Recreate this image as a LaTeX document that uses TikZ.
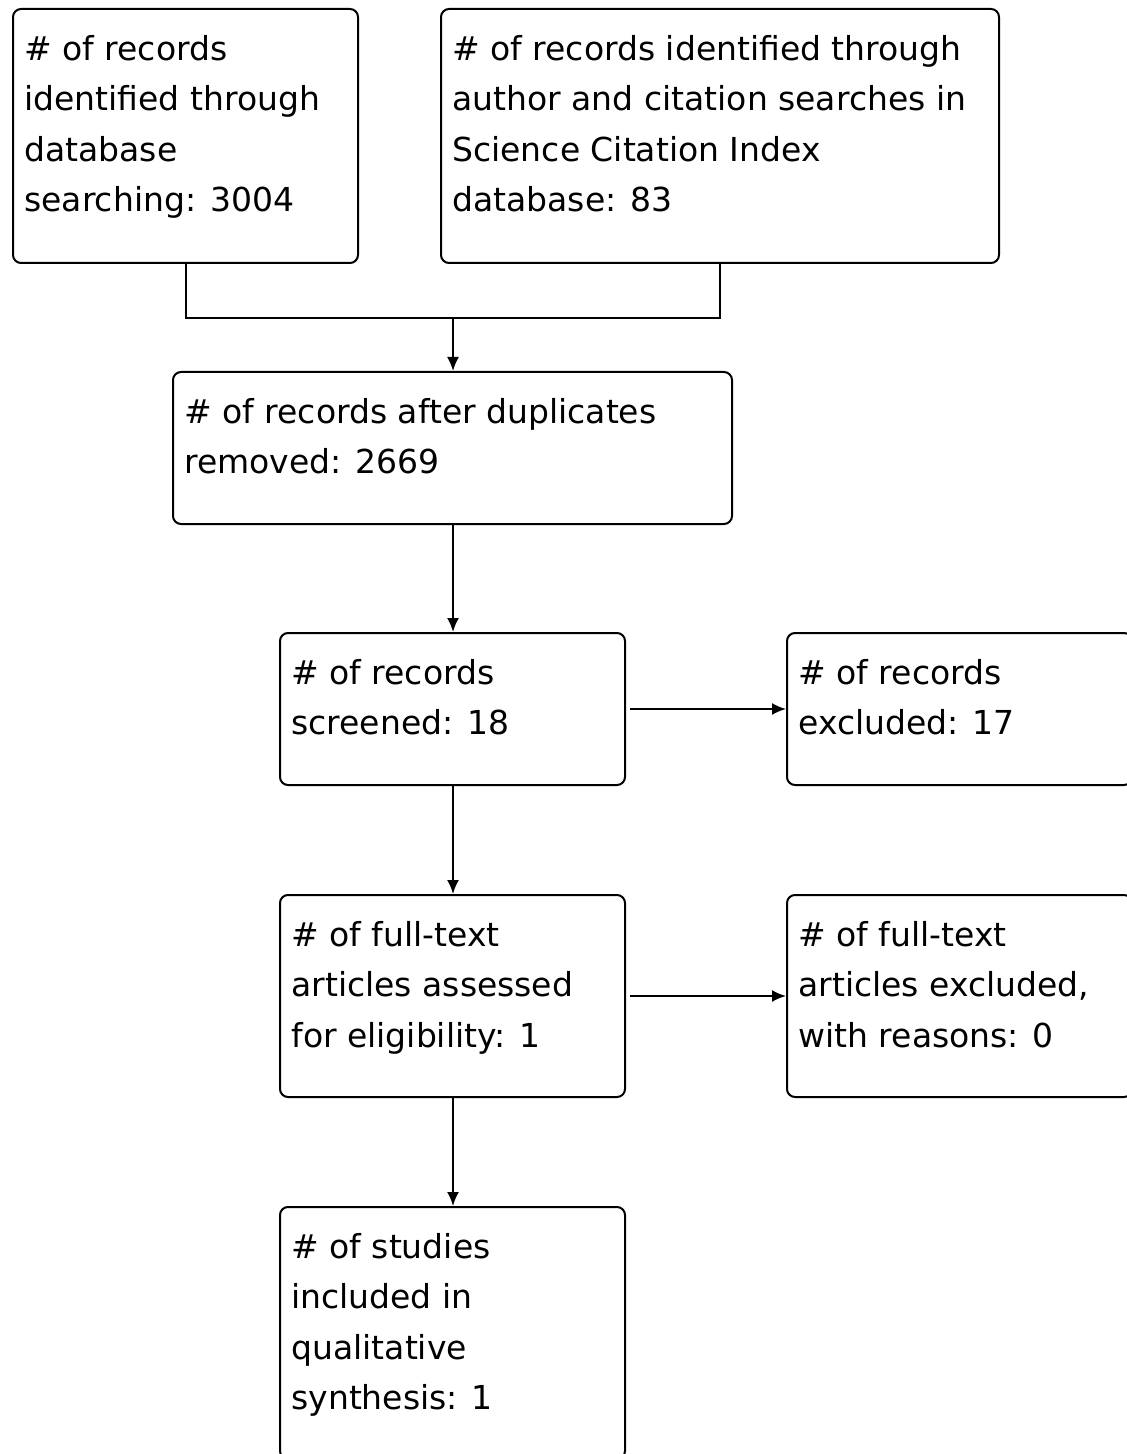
\documentclass[tikz,border=0pt]{standalone}
\usepackage{fontspec}
\setmainfont{DejaVu Sans}
\usetikzlibrary{arrows.meta,calc}
\newcommand{\firststrut}{\rule{0pt}{13pt}}
\begin{document}
\begin{tikzpicture}[x=0.5pt,y=-0.5pt,
  box/.style={draw, line width=1pt, rounded corners=4pt, rectangle, inner sep=0pt, anchor=north west},
  txt/.style={anchor=north west, inner sep=0pt, align=left, font=\fontsize{16.5}{25.2}\selectfont},
  conn/.style={line width=1pt},
  arr/.style={line width=1pt, -{Latex[length=7pt,width=6pt]}}]
\useasboundingbox (0,0) rectangle (1127,1454);
\clip (0,0) rectangle (1127,1454);
\fill[white] (0,0) rectangle (1127,1454);
% boxes
\node[box, minimum width=172.5pt, minimum height=127pt] (A) at (12,8) {};
\node[box, minimum width=279pt, minimum height=127pt] (B) at (440,8) {};
\node[box, minimum width=279.5pt, minimum height=76pt] (C) at (172,371) {};
\node[box, minimum width=172.5pt, minimum height=76pt] (D) at (279,632) {};
\node[box, minimum width=172.5pt, minimum height=76pt] (E) at (786,632) {};
\node[box, minimum width=172.5pt, minimum height=101pt] (F) at (279,894) {};
\node[box, minimum width=172.5pt, minimum height=101pt] (G) at (786,894) {};
\node[box, minimum width=172.5pt, minimum height=126pt] (H) at (279,1206) {};
% texts
\node[txt] (tA) at ($(A.north west)+(12,26)$) {\firststrut\# of records\\identified through\\database\\searching: 3004};
\node[txt] (tB) at ($(B.north west)+(12,26)$) {\firststrut\# of records identified through\\author and citation searches in\\Science Citation Index\\database: 83};
\node[txt] (tC) at ($(C.north west)+(12,26)$) {\firststrut\# of records after duplicates\\removed: 2669};
\node[txt] (tD) at ($(D.north west)+(12,26)$) {\firststrut\# of records\\screened: 18};
\node[txt] (tE) at ($(E.north west)+(12,26)$) {\firststrut\# of records\\excluded: 17};
\node[txt] (tF) at ($(F.north west)+(12,26)$) {\firststrut\# of full-text\\articles assessed\\for eligibility: 1};
\node[txt] (tG) at ($(G.north west)+(12,26)$) {\firststrut\# of full-text\\articles excluded,\\with reasons: 0};
\node[txt] (tH) at ($(H.north west)+(12,26)$) {\firststrut\# of studies\\included in\\qualitative\\synthesis: 1};
% connectors
\coordinate (J) at (453,318);
\draw[conn] (A.south) |- (J) -| (B.south);
\draw[arr] (J) -- (J |- C.north);
\draw[arr] (J |- C.south) -- (J |- D.north);
\draw[arr] (J |- D.south) -- (J |- F.north);
\draw[arr] (J |- F.south) -- (J |- H.north);
\draw[arr] ([xshift=2pt]D.east) -- (E.west);
\draw[arr] ([xshift=2pt]F.east) -- (E.west |- F.east);
\end{tikzpicture}
\end{document}
